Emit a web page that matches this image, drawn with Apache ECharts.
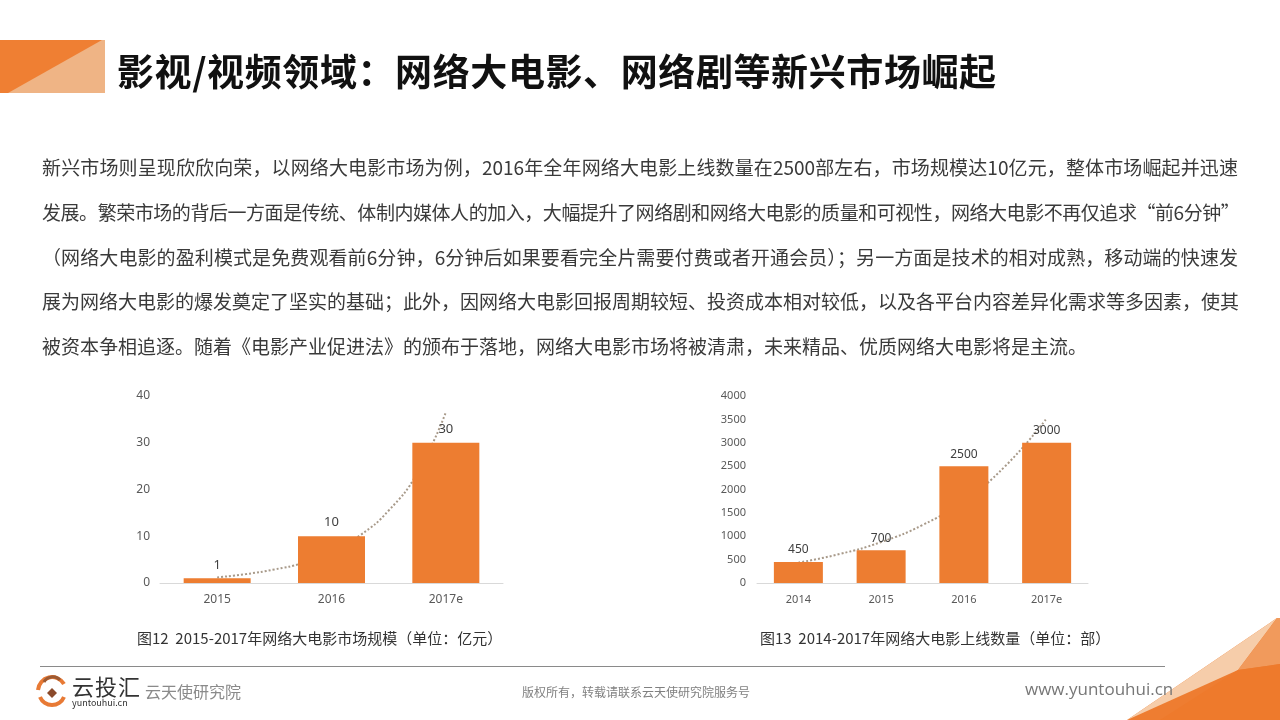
<!DOCTYPE html>
<html>
<head>
<meta charset="utf-8">
<script src="https://cdn.jsdelivr.net/npm/echarts@6/dist/echarts.min.js"></script>
<style>
  html, body { margin:0; padding:0; background:#fff; }
  body { width:1280px; height:720px; position:relative; overflow:hidden; font-family:"Noto Sans CJK SC","Noto Sans",sans-serif; }
  #chart { position:absolute; left:0; top:0; width:1280px; height:720px; }
  .abs { position:absolute; white-space:nowrap; }
  #title { left:117px; top:47px; font-size:37px; font-weight:bold; color:#111; line-height:46px; letter-spacing:0.6px; }
  .pl { position:absolute; left:42px; width:1196px; font-size:19px; color:#3a3a3a; line-height:26px; text-align:justify; text-align-last:justify; white-space:nowrap; }
  .pl.last { text-align-last:left; }
  .cap { font-size:15px; color:#333; line-height:20px; }
</style>
</head>
<body>
<svg class="abs" style="left:0;top:0" width="1280" height="720">
  <polygon points="0,40 105,40 105,93 0,93" fill="#EFB485"/>
  <polygon points="0,40 102,40 8,93 0,93" fill="#EF7F33"/>
  <polygon points="1127,720 1277,618 1280,618 1280,720" fill="#EE7D31"/>
  <polygon points="1127,720 1238,670 1277,618" fill="#F6CDAA"/>
  <polygon points="1238,670 1277,618 1280,618 1280,664" fill="#F19A5C"/>
  <polygon points="1160,720 1238,670 1280,664 1280,720" fill="#EE7A2C"/>
  <line x1="40" y1="666.5" x2="1165" y2="666.5" stroke="#8a8a8a" stroke-width="1"/>
  <path d="M38,690 A14,14 0 0 1 64,684" stroke="#E87A35" stroke-width="4" fill="none"/>
  <path d="M40,697 A13,13 0 0 0 64,697" stroke="#E87A35" stroke-width="4" fill="none"/>
  <path d="M44,682 A10,10 0 0 1 60,680" stroke="#9C5A34" stroke-width="3" fill="none"/>
  <polygon points="52,688 57,693 52,698 47,693" fill="#8B4A2B"/>
</svg>
<div id="chart"></div>
<div id="title" class="abs">影视/视频领域：网络大电影、网络剧等新兴市场崛起</div>
<div class="pl" style="top:154px">新兴市场则呈现欣欣向荣，以网络大电影市场为例，2016年全年网络大电影上线数量在2500部左右，市场规模达10亿元，整体市场崛起并迅速</div>
<div class="pl" style="top:199px;letter-spacing:-0.45px;">发展。繁荣市场的背后一方面是传统、体制内媒体人的加入，大幅提升了网络剧和网络大电影的质量和可视性，网络大电影不再仅追求“前6分钟”</div>
<div class="pl" style="top:244px">（网络大电影的盈利模式是免费观看前6分钟，6分钟后如果要看完全片需要付费或者开通会员）；另一方面是技术的相对成熟，移动端的快速发</div>
<div class="pl" style="top:288px">展为网络大电影的爆发奠定了坚实的基础；此外，因网络大电影回报周期较短、投资成本相对较低，以及各平台内容差异化需求等多因素，使其</div>
<div class="pl last" style="top:333px">被资本争相追逐。随着《电影产业促进法》的颁布于落地，网络大电影市场将被清肃，未来精品、优质网络大电影将是主流。</div>
<div class="abs cap" style="left:137px;top:628px">图12&nbsp;&nbsp;2015-2017年网络大电影市场规模（单位：亿元）</div>
<div class="abs cap" style="left:760px;top:628px">图13&nbsp;&nbsp;2014-2017年网络大电影上线数量（单位：部）</div>
<div class="abs" style="left:72px;top:673px;font-size:22px;color:#333;line-height:24px;letter-spacing:1px;">云投汇</div>
<div class="abs" style="left:72px;top:698px;font-size:9px;color:#333;line-height:10px;">yuntouhui.cn</div>
<div class="abs" style="left:145px;top:680px;font-size:16px;color:#8a8a8a;line-height:22px;">云天使研究院</div>
<div class="abs" style="left:522px;top:684px;font-size:12px;color:#808080;line-height:16px;">版权所有，转载请联系云天使研究院服务号</div>
<div class="abs" style="left:1025px;top:678px;font-size:17px;color:#777;line-height:22px;font-family:'Open Sans','DejaVu Sans',sans-serif;">www.yuntouhui.cn</div>
<script>
// Chart 1: 网络大电影市场规模（亿元）
const cats1 = ['2015', '2016', '2017e'];
const vals1 = [1, 10, 30];
// dotted trend line: [category position, value]
const trend1 = [[0, 1.2], [0.25, 1.9], [0.5, 2.9], [0.75, 4.3], [1, 6.7], [1.25, 10.2], [1.5, 15.5], [1.75, 23.5], [2, 36.5]];
const yTicks1 = { min: 0, max: 40, interval: 10 };

// Chart 2: 网络大电影上线数量（部）
const cats2 = ['2014', '2015', '2016', '2017e'];
const vals2 = [450, 700, 2500, 3000];
const trend2 = [[0, 436], [0.5, 620], [1, 876], [1.5, 1240], [2, 1760], [2.5, 2500], [3, 3520]];
const yTicks2 = { min: 0, max: 4000, interval: 500 };

const chart = echarts.init(document.getElementById('chart'), null, { renderer: 'canvas' });
const axisLabelStyle = { color: '#595959', fontFamily: 'Noto Sans, sans-serif', formatter: v => String(v) };
const trendStyle = { type: 'dotted', color: '#a89a8a', width: 2 };

chart.setOption({
  animation: false,
  grid: [
    { left: 160, top: 396, width: 343, height: 187 },
    { left: 757, top: 396, width: 331, height: 187 }
  ],
  xAxis: [
    { type: 'category', gridIndex: 0, data: cats1,
      axisLine: { lineStyle: { color: '#d9d9d9' } }, axisTick: { show: false },
      axisLabel: Object.assign({ fontSize: 12, margin: 11 }, axisLabelStyle) },
    { type: 'value', gridIndex: 0, min: -0.5, max: 2.5, show: false },
    { type: 'category', gridIndex: 1, data: cats2,
      axisLine: { lineStyle: { color: '#d9d9d9' } }, axisTick: { show: false },
      axisLabel: Object.assign({ fontSize: 11, margin: 11 }, axisLabelStyle) },
    { type: 'value', gridIndex: 1, min: -0.5, max: 3.5, show: false }
  ],
  yAxis: [
    { type: 'value', gridIndex: 0, min: yTicks1.min, max: yTicks1.max, interval: yTicks1.interval,
      axisLine: { show: false }, axisTick: { show: false }, splitLine: { show: false },
      axisLabel: Object.assign({ fontSize: 12, margin: 10 }, axisLabelStyle) },
    { type: 'value', gridIndex: 1, min: yTicks2.min, max: yTicks2.max, interval: yTicks2.interval,
      axisLine: { show: false }, axisTick: { show: false }, splitLine: { show: false },
      axisLabel: Object.assign({ fontSize: 11, margin: 11 }, axisLabelStyle) }
  ],
  series: [
    { type: 'line', xAxisIndex: 1, yAxisIndex: 0, data: trend1, smooth: true, symbol: 'none',
      lineStyle: trendStyle, z: 1, silent: true },
    { type: 'bar', xAxisIndex: 0, yAxisIndex: 0, data: vals1, barWidth: 67, z: 3,
      itemStyle: { color: '#ED7D31' },
      label: { show: true, position: 'top', distance: 7, color: '#404040', fontSize: 13, fontFamily: 'Noto Sans, sans-serif' } },
    { type: 'line', xAxisIndex: 3, yAxisIndex: 1, data: trend2, smooth: true, symbol: 'none',
      lineStyle: trendStyle, z: 1, silent: true },
    { type: 'bar', xAxisIndex: 2, yAxisIndex: 1, data: vals2, barWidth: 49, z: 3,
      itemStyle: { color: '#ED7D31' },
      label: { show: true, position: 'top', distance: 6, color: '#404040', fontSize: 12, fontFamily: 'Noto Sans, sans-serif' } }
  ]
});
</script>
</body>
</html>
